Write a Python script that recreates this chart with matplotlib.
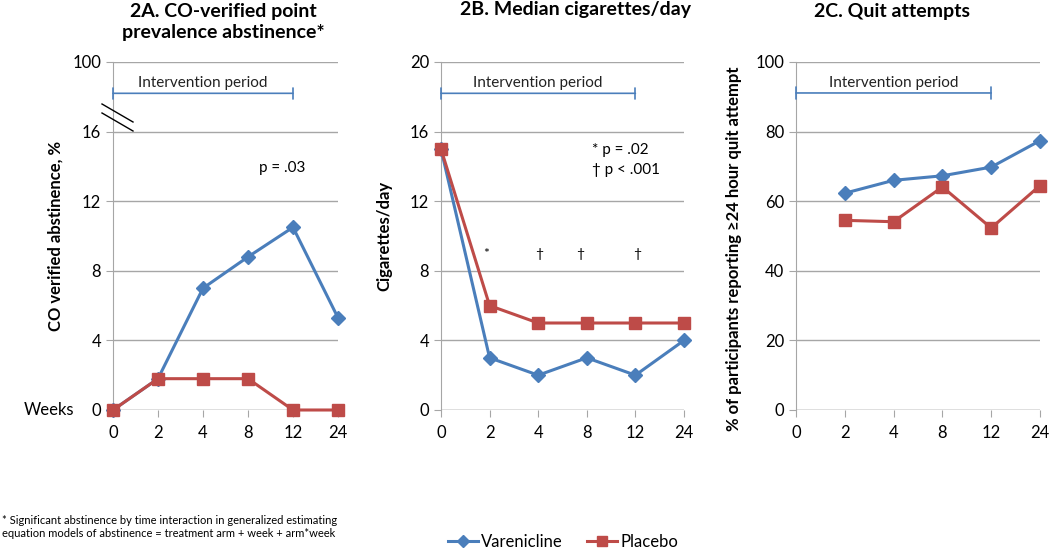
import matplotlib.pyplot as plt
from matplotlib.lines import Line2D
import numpy as np

plt.rcParams['font.family'] = ['Lato', 'DejaVu Sans']

weeks = ['0', '2', '4', '8', '12', '24']

# 2A: CO-verified abstinence, %
abst_var = [0, 1.8, 7.0, 8.8, 10.5, 5.3]
abst_pla = [0, 1.8, 1.8, 1.8, 0, 0]

# 2B: median cigarettes/day
cig_var = [15, 3, 2, 3, 2, 4]
cig_pla = [15, 6, 5, 5, 5, 5]

# 2C: quit attempts (no week 0)
quit_var = [None, 62.3, 66.0, 67.3, 69.8, 77.4]
quit_pla = [None, 54.5, 54.1, 64.1, 52.3, 64.5]

blue = '#4A7EBB'
red = '#BE4B48'
grid = '#A6A6A6'

fig = plt.figure(figsize=(10.5, 5.48), dpi=100)

W, H = 1050, 548
def box(x0, x1, y0=62, y1=410):
    return [x0 / W, 1 - y1 / H, (x1 - x0) / W, (y1 - y0) / H]

axA = fig.add_axes(box(113, 338))
axB = fig.add_axes(box(441, 684))
axC = fig.add_axes(box(796, 1040))

x = np.arange(len(weeks))


def style(ax, ymax, step, labels=None):
    ax.set_xlim(0, len(weeks) - 1)
    ax.set_ylim(0, ymax)
    ticks = np.arange(0, ymax + 0.1, step)
    ax.set_yticks(ticks)
    if labels is not None:
        ax.set_yticklabels(labels)
    ax.set_xticks(x)
    ax.set_xticklabels(weeks)
    for s in ['top', 'right', 'bottom']:
        ax.spines[s].set_visible(False)
    ax.spines['left'].set_color(grid)
    ax.grid(axis='y', color=grid, lw=1)
    ax.set_axisbelow(True)
    ax.axhline(0, color=grid, lw=1)
    ax.tick_params(axis='both', labelsize=12, color=grid, length=5)
    ax.tick_params(axis='x', pad=6)


def series(ax, vals, color, marker, ms):
    xs = [i for i, v in enumerate(vals) if v is not None]
    ys = [v for v in vals if v is not None]
    ax.plot(xs, ys, color=color, lw=2.2, marker=marker, ms=ms,
            markeredgecolor=color, clip_on=False, zorder=3)


def intervention(ax, y, ty):
    ax.annotate('', xy=(0, y), xytext=(4, y),
                arrowprops=dict(arrowstyle='|-|', color=blue, lw=1.2,
                                mutation_scale=4, shrinkA=0, shrinkB=0))
    ax.text(2, ty, 'Intervention period', ha='center', va='center',
            fontsize=11, color='#222222')


# 2A
style(axA, 20, 4, ['0', '4', '8', '12', '16', '100'])
series(axA, abst_var, blue, 'D', 7)
series(axA, abst_pla, red, 's', 9)
intervention(axA, 18.2, 18.8)
axA.text(3.25, 13.9, 'p = .03', fontsize=11, va='center')
axA.set_ylabel('CO verified abstinence, %', fontsize=12, fontweight='bold')
axA.yaxis.set_label_coords(-0.222, 0.5)
axA.text(-0.87, 0, 'Weeks', fontsize=12, va='center', ha='right',
         transform=axA.transData)
# axis break marks
for dy in (0, 9):
    fig.add_artist(Line2D([102 / W, 133 / W],
                          [1 - (104 + dy) / H, 1 - (122 + dy) / H],
                          color='black', lw=1))

# 2B
style(axB, 20, 4)
series(axB, cig_var, blue, 'D', 7)
series(axB, cig_pla, red, 's', 9)
intervention(axB, 18.2, 18.8)
axB.text(3.1, 14.95, '* p = .02', fontsize=11, va='center')
axB.text(3.1, 13.8, '\u2020 p < .001', fontsize=11, va='center')
axB.text(0.92, 8.97, '*', fontsize=10, ha='center', va='center')
for xi in (2.02, 2.86, 4.03):
    axB.text(xi, 8.97, '\u2020', fontsize=10, ha='center', va='center')
axB.set_ylabel('Cigarettes/day', fontsize=12, fontweight='bold')
axB.yaxis.set_label_coords(-0.20, 0.5)

# 2C
style(axC, 100, 20)
series(axC, quit_var, blue, 'D', 7)
series(axC, quit_pla, red, 's', 9)
intervention(axC, 91.1, 94.0)
axC.set_ylabel('% of participants reporting \u226524 hour quit attempt',
               fontsize=12, fontweight='bold')
axC.yaxis.set_label_coords(-0.22, 0.463)

# panel titles
fig.text(223 / W, 1 - 22 / H, '2A. CO-verified point\nprevalence abstinence*',
         fontsize=14, fontweight='bold', ha='center', va='center',
         linespacing=1.35)
fig.text(576 / W, 1 - 10 / H, '2B. Median cigarettes/day', fontsize=14,
         fontweight='bold', ha='center', va='center')
fig.text(892 / W, 1 - 12 / H, '2C. Quit attempts', fontsize=14,
         fontweight='bold', ha='center', va='center')

# footnote
fig.text(0.002, 1 - 527 / H,
         '* Significant abstinence by time interaction in generalized estimating\n'
         'equation models of abstinence = treatment arm + week + arm*week',
         fontsize=8, va='center', ha='left', linespacing=1.25)

# legend
handles = [Line2D([], [], color=blue, lw=2.2, marker='D', ms=6),
           Line2D([], [], color=red, lw=2.2, marker='s', ms=7)]
fig.legend(handles, ['Varenicline', 'Placebo'], loc='center',
           bbox_to_anchor=(563 / W, 1 - 542 / H), ncol=2, frameon=False,
           fontsize=12, handlelength=1.8, columnspacing=1.45,
           handletextpad=0.2, borderpad=0)

fig.savefig('out.png', dpi=100)
